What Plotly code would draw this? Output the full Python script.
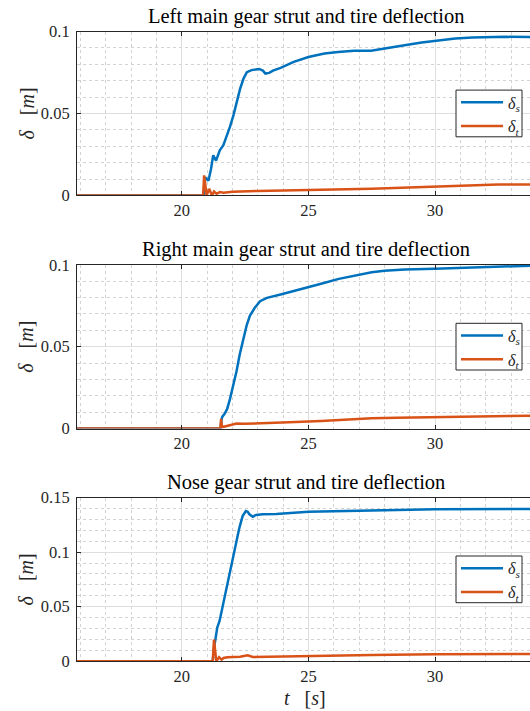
import plotly.graph_objects as go

# ---- Left main gear ----
t_left_s = [15.5, 20.88, 20.92, 20.97, 21.05, 21.15, 21.24, 21.35, 21.5, 21.64, 21.77, 21.9,
            22.04, 22.17, 22.3, 22.44, 22.57, 22.75, 22.9, 23.05, 23.2, 23.3, 23.45, 23.6,
            23.9, 24.42, 25.0, 25.63, 26.17, 26.8, 27.47, 28.1, 28.8, 29.47, 30.0, 30.8,
            31.47, 32.8, 34.1]
ds_left = [0, 0, 0.011, 0.010, 0.009, 0.016, 0.0245, 0.0212, 0.0275, 0.0306, 0.0357, 0.0418,
           0.049, 0.057, 0.065, 0.0715, 0.0752, 0.0765, 0.077, 0.0772, 0.0762, 0.0744, 0.0748,
           0.0762, 0.0778, 0.0815, 0.0845, 0.0866, 0.0876, 0.0883, 0.0883, 0.0897, 0.0917,
           0.0933, 0.0944, 0.0958, 0.0964, 0.0968, 0.0966]
t_left_t = [15.5, 20.84, 20.88, 20.93, 20.98, 21.08, 21.19, 21.27, 21.37, 21.5, 21.65, 22.0,
            22.5, 23.0, 23.5, 24.5, 25.0, 26.5, 27.5, 28.5, 29.5, 30.5, 31.5, 32.5, 34.1]
dt_left = [0, 0, 0.0122, 0.005, 0.0, 0.004, 0.0, 0.0024, 0.001, 0.002, 0.0016, 0.0022,
           0.0026, 0.0027, 0.0028, 0.0030, 0.0032, 0.0037, 0.0041, 0.0046, 0.0052, 0.0058,
           0.0063, 0.0066, 0.0067]

# ---- Right main gear ----
t_right_s = [15.5, 21.53, 21.56, 21.6, 21.69, 21.79, 21.9, 22.03, 22.16, 22.29, 22.43, 22.56,
             22.69, 22.89, 23.09, 23.36, 23.9, 24.5, 25.0, 25.5, 26.2, 27.0, 27.5, 28.0, 28.8,
             30.0, 31.5, 33.0, 34.1]
ds_right = [0, 0, 0.005, 0.0073, 0.009, 0.012, 0.018, 0.026, 0.035, 0.0456, 0.0548, 0.063,
            0.069, 0.074, 0.0778, 0.0798, 0.0819, 0.0842, 0.0863, 0.0884, 0.0914, 0.094,
            0.0955, 0.0964, 0.0971, 0.0976, 0.0985, 0.0992, 0.0996]
t_right_t = [15.5, 21.52, 21.55, 21.58, 21.62, 21.9, 22.16, 22.43, 22.7, 23.5, 24.5, 25.5,
             26.5, 27.5, 28.5, 30.0, 31.5, 33.0, 34.1]
dt_right = [0, 0, 0.006, 0.002, 0.001, 0.0022, 0.0031, 0.0029, 0.003, 0.0035, 0.004, 0.0046,
            0.0055, 0.0063, 0.0067, 0.0069, 0.0072, 0.0077, 0.0079]

# ---- Nose gear ----
t_nose_s = [15.5, 21.22, 21.27, 21.33, 21.4, 21.49, 21.6, 21.73, 21.87, 22.0, 22.13, 22.27,
            22.4, 22.53, 22.6, 22.67, 22.8, 22.93, 23.2, 23.73, 25.0, 27.5, 30.0, 34.1]
ds_nose = [0, 0, 0.012, 0.021, 0.031, 0.037, 0.049, 0.064, 0.0795, 0.093, 0.1086, 0.122,
           0.133, 0.1376, 0.137, 0.1346, 0.1324, 0.134, 0.1346, 0.135, 0.1369, 0.1384,
           0.1393, 0.1396]
t_nose_t = [15.5, 21.22, 21.27, 21.31, 21.36, 21.47, 21.57, 21.65, 21.8, 22.3, 22.6, 22.8,
            23.5, 25.0, 27.5, 30.0, 34.1]
dt_nose = [0, 0, 0.02, 0.008, 0.0, 0.0037, 0.0015, 0.003, 0.0037, 0.0042, 0.0055, 0.004,
           0.0043, 0.005, 0.0058, 0.0064, 0.0068]

titles = ["Left main gear strut and tire deflection",
          "Right main gear strut and tire deflection",
          "Nose gear strut and tire deflection"]
y_max = [0.1, 0.1, 0.15]
x_ticks = [20, 25, 30]

W, H = 530, 711
BLUE, ORANGE = "#0072BD", "#D95319"
AX = "#262626"
FONT = "Liberation Serif"

# pixel geometry of each panel (top, bottom)
panels = [(31.6, 195.4), (264.8, 428.6), (497.5, 661.3)]
x_left_px = 77
# legend frame: left/right edge, offset of its top below the panel top, height
leg_x0, leg_x1, leg_dy, leg_h = 456, 522, 58.5, 46.7

def py(p):
    return 1 - p / H

series = [
    (t_left_s, ds_left, t_left_t, dt_left),
    (t_right_s, ds_right, t_right_t, dt_right),
    (t_nose_s, ds_nose, t_nose_t, dt_nose),
]

fig = go.Figure()
annotations = []
shapes = []
for i, (ts, s, tt, d) in enumerate(series):
    n = "" if i == 0 else str(i + 1)
    xa, ya = "x" + n, "y" + n
    leg = "legend" + n
    fig.add_trace(go.Scatter(x=ts, y=s, mode="lines", xaxis=xa, yaxis=ya,
                             line=dict(color=BLUE, width=2.5),
                             name="<i>δ<sub>s</sub></i>", legend=leg))
    fig.add_trace(go.Scatter(x=tt, y=d, mode="lines", xaxis=xa, yaxis=ya,
                             line=dict(color=ORANGE, width=2.5),
                             name="<i>δ<sub>t</sub></i>", legend=leg))
    top, bot = panels[i]
    common = dict(showline=True, linecolor=AX, linewidth=1, ticks="inside", ticklen=4,
                  tickcolor=AX, tickfont=dict(family=FONT, size=16.5, color=AX),
                  showgrid=True, gridcolor="#dedede", gridwidth=1, zeroline=False,
                  automargin=False)
    fig.layout["xaxis" + n] = dict(
        common, domain=[x_left_px / W, 1], range=[15.86, 33.75], anchor=ya,
        tickvals=x_ticks, mirror="ticks",
        minor=dict(dtick=1, tick0=0, showgrid=True, gridcolor="#d2d2d2",
                   griddash="dot", gridwidth=1))
    fig.layout["yaxis" + n] = dict(
        common, domain=[py(bot), py(top)], range=[0, y_max[i]], anchor=xa,
        dtick=0.05, tick0=0, ticklabelstandoff=3,
        minor=dict(dtick=0.01, tick0=0, showgrid=True, gridcolor="#d2d2d2",
                   griddash="dot", gridwidth=1))
    # white framed box behind the legend entries
    shapes.append(dict(type="rect", xref="paper", yref="paper", layer="above",
                       x0=leg_x0 / W, x1=leg_x1 / W,
                       y0=py(top + leg_dy + leg_h), y1=py(top + leg_dy),
                       fillcolor="white", line=dict(color=AX, width=1)))
    fig.layout[leg] = dict(
        x=leg_x0 / W, y=py(top + leg_dy - 4.7), xanchor="left", yanchor="top",
        bgcolor="rgba(0,0,0,0)", borderwidth=0,
        font=dict(family=FONT, size=16, color=AX), itemwidth=42,
        tracegroupgap=0)
    annotations.append(dict(text=titles[i], xref="paper", yref="paper",
                            x=306 / W, y=py(top - 15), xanchor="center", yanchor="middle",
                            showarrow=False, font=dict(family=FONT, size=20.5, color="#000")))
    annotations.append(dict(text="<i>δ</i>   [<i>m</i>]", xref="paper", yref="paper",
                            x=26 / W, y=py((top + bot) / 2), xanchor="center",
                            yanchor="middle", textangle=-90, showarrow=False,
                            font=dict(family=FONT, size=20, color=AX)))

annotations.append(dict(text="<i>t</i>   [<i>s</i>]", xref="paper", yref="paper",
                        x=305 / W, y=0, xanchor="center", yanchor="bottom",
                        showarrow=False, font=dict(family=FONT, size=20, color=AX)))

fig.update_layout(template="none", width=W, height=H,
                  margin=dict(l=0, r=0, t=0, b=0, pad=0, autoexpand=False),
                  font=dict(family=FONT, color=AX),
                  paper_bgcolor="white", plot_bgcolor="white",
                  annotations=annotations, shapes=shapes, showlegend=True)
fig.write_html("out.html")
